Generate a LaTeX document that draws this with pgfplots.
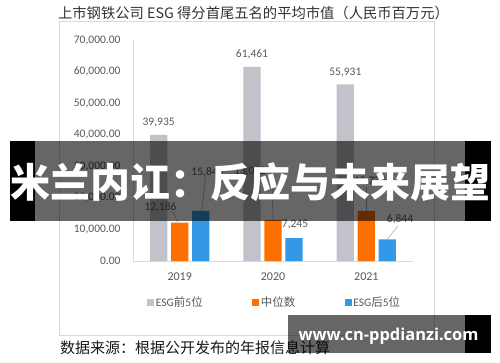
\documentclass[border=0pt]{standalone}
\usepackage{fontspec}
\setmainfont{Carlito}
\newfontfamily\cjk{Noto Sans CJK SC}
\newfontfamily\wm{Open Sans}
\usepackage{pgfplots}
\pgfplotsset{compat=1.18}
\definecolor{cgray}{HTML}{C2C2CA}
\definecolor{corange}{HTML}{FF6F00}
\definecolor{cblue}{HTML}{3399E6}
\definecolor{axisgray}{HTML}{D9D9D9}
\definecolor{txtgray}{HTML}{595959}
\definecolor{leadgray}{HTML}{A6A6A6}
\begin{document}
\begin{tikzpicture}
\useasboundingbox (0pt,0pt) rectangle (500pt,362pt);
\fill[white] (0pt,0pt) rectangle (500pt,362pt);
\draw[axisgray, line width=0.8pt] (59pt,27pt) rectangle (434pt,341pt);
\node[font=\cjk\fontsize{14.3}{16}\selectfont, text=black!80] at (253.5pt,349pt) {上市钢铁公司 ESG 得分首尾五名的平均市值（人民币百万元）};
\begin{axis}[at={(133pt,101pt)}, anchor=south west, scale only axis,
  width=280pt, height=221pt,
  ymin=0, ymax=70000, xmin=-0.5, xmax=2.5,
  xtick={0,1,2}, xticklabels={2019,2020,2021},
  ytick={0,10000,...,70000}, scaled y ticks=false,
  major tick length=0,
  axis x line*=bottom, axis y line*=left,
  axis line style={axisgray, line width=0.8pt},
  ybar=3.7pt, bar width=17.3pt, clip=false,
  /pgf/number format/assume math mode=true,
  y tick label style={font=\fontsize{11.5}{13}\selectfont, text=txtgray, xshift=-9pt, /pgf/number format/.cd, fixed, fixed zerofill, precision=2, 1000 sep={,}, /tikz/.cd},
  x tick label style={font=\fontsize{12}{14}\selectfont, text=txtgray, yshift=-8pt},
  legend columns=3,
  legend style={at={(axis description cs:0.04,-0.186)}, anchor=west, draw=none, fill=none,
    font=\fontsize{11.5}{13}\selectfont, text=txtgray,
    nodes={inner xsep=1.5pt},
    /tikz/every even column/.append style={column sep=48pt}},
]
\addplot[fill=cgray, draw=none,
  legend image code/.code={\fill[cgray] (0pt,-3.5pt) rectangle (7pt,3.5pt);},
  nodes near coords={\pgfmathprintnumber[fixed, precision=0, 1000 sep={,}]{\pgfplotspointmeta}},
  every node near coord/.append style={font=\fontsize{11.5}{13}\selectfont, text=txtgray, yshift=4pt}]
  coordinates {(0,39935) (1,61461) (2,55931)};
\addlegendentry{ESG{\cjk 前}5{\cjk 位}}
\addplot[fill=corange, draw=none,
  legend image code/.code={\fill[corange] (0pt,-3.5pt) rectangle (7pt,3.5pt);}]
  coordinates {(0,12186) (1,13012) (2,15772)};
\addlegendentry{{\cjk 中位数}}
\addplot[fill=cblue, draw=none,
  legend image code/.code={\fill[cblue] (0pt,-3.5pt) rectangle (7pt,3.5pt);}]
  coordinates {(0,15845) (1,7245) (2,6844)};
\addlegendentry{ESG{\cjk 后}5{\cjk 位}}
% data labels with leader lines
\draw[leadgray, line width=0.5pt] (axis cs:-0.0714,15520) -- (axis cs:-0.0179,12186);
\node[font=\fontsize{11.5}{13}\selectfont, text=txtgray] at (axis cs:-0.205,17104) {12,186};
\draw[leadgray, line width=0.5pt] (axis cs:0.279,26923) -- (axis cs:0.236,15845);
\node[font=\fontsize{11.5}{13}\selectfont, text=txtgray] at (axis cs:0.298,28190) {15,845};
\draw[leadgray, line width=0.5pt] (axis cs:0.99,26606) -- (axis cs:1.0,13012);
\node[font=\fontsize{11.5}{13}\selectfont, text=txtgray] at (axis cs:0.754,28190) {13,012};
\draw[leadgray, line width=0.5pt] (axis cs:2.0,23500) -- (axis cs:2.0,15772);
\node[font=\fontsize{11.5}{13}\selectfont, text=txtgray] at (axis cs:2.04,25339) {15,772};
\node[font=\fontsize{11.5}{13}\selectfont, text=txtgray] at (axis cs:1.236,11403) {7,245};
\draw[leadgray, line width=0.5pt] (axis cs:2.339,11086) -- (axis cs:2.221,6844);
\node[font=\fontsize{11.5}{13}\selectfont, text=txtgray] at (axis cs:2.361,13303) {6,844};
\end{axis}
\node[anchor=west, font=\cjk\fontsize{15}{17}\selectfont, text=black!90, inner sep=0] at (60pt,14pt) {数据来源：根据公开发布的年报信息计算};
% banner overlay
\fill[black, opacity=0.6] (35pt,141pt) rectangle (465pt,221pt);
\fill[black] (10pt,141pt) rectangle (35pt,221pt);
\fill[black] (465pt,141pt) rectangle (491pt,221pt);
\node[font=\cjk\bfseries\fontsize{40}{40}\selectfont, text=white, inner sep=0] at (250pt,180pt) {米兰内讧：反应与未来展望};
% watermark
\fill[black, opacity=0.6] (288pt,9pt) rectangle (465pt,47pt);
\fill[black] (465pt,9pt) rectangle (491pt,47pt);
\node[font=\wm\bfseries\fontsize{16.4}{18}\selectfont, text=white, inner sep=0] at (388.5pt,26pt) {www.cn-ppdianzi.com};
\end{tikzpicture}
\end{document}
